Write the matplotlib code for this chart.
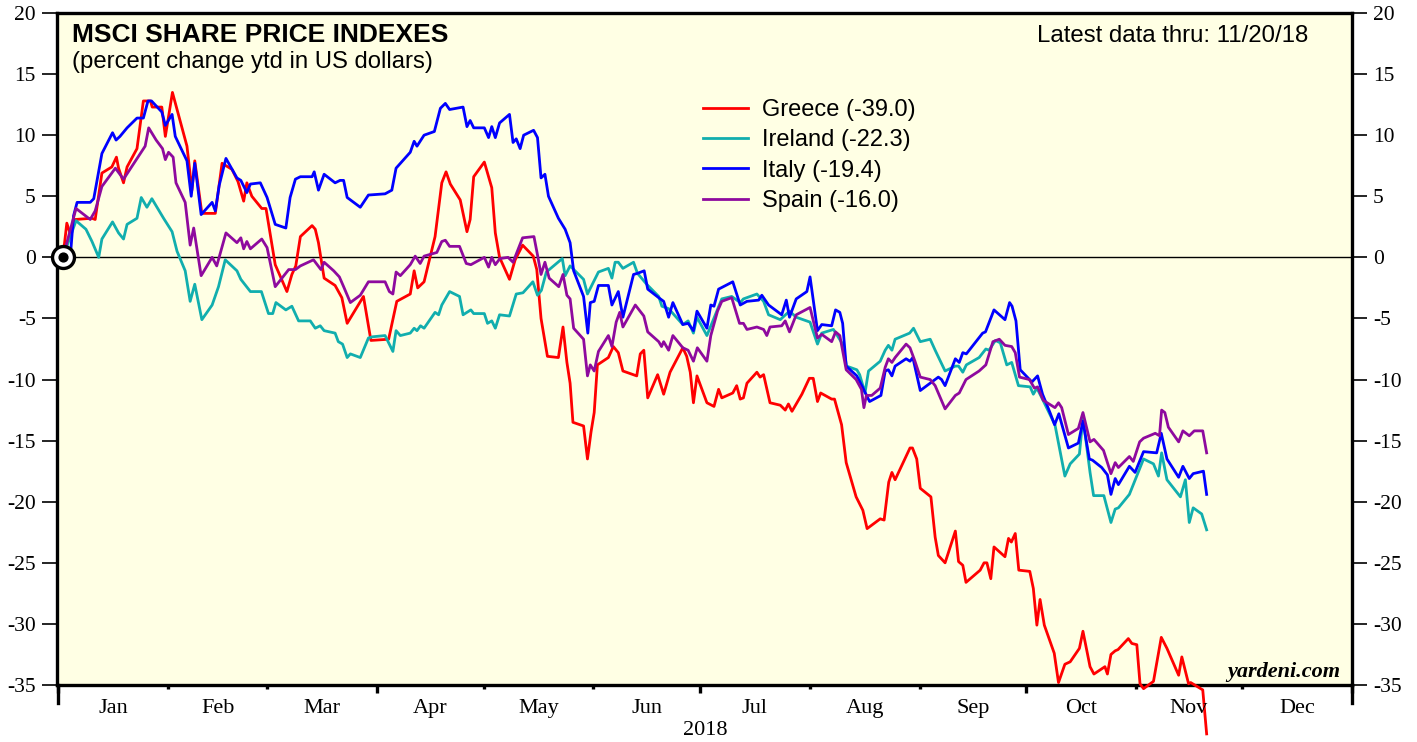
import datetime as dt
import numpy as np
import matplotlib
matplotlib.use("Agg")
import matplotlib.pyplot as plt
import matplotlib.dates as mdates
import matplotlib.transforms as mtrans

plt.rcParams["axes.unicode_minus"] = False

# days after 2018-01-01, percent change ytd
greece_day = [1.3, 2.4, 3.4, 4.8, 9.5, 10.4, 12.3, 15.1, 16.4, 17.0, 18.4, 19.4, 22.2, 24.0, 26.0, 26.5, 29.2, 30.2, 32.2, 36.3,
              37.7, 38.5, 40.5, 44.3, 46.2, 49.0, 50.7, 52.3, 53.2, 54.6, 57.4, 58.6, 61.2, 64.5, 65.9, 67.0, 68.3, 71.6, 72.5, 73.4,
              75.0, 78.1, 80.0, 81.5, 86.1, 88.2, 93.2, 95.5, 99.3, 100.4, 101.4, 103.2, 106.3, 108.2, 109.4, 110.6, 113.4, 115.3, 116.2, 117.2,
              120.2, 122.3, 123.3, 124.5, 127.3, 128.9, 131.0, 134.0, 135.0, 136.2, 138.0, 141.1, 142.4, 143.5, 144.4, 145.2, 148.2, 149.3, 150.3, 151.2,
              152.1, 155.2, 156.6, 158.0, 159.3, 163.2, 164.2, 165.2, 166.3, 169.1, 170.8, 172.6, 176.2, 177.3, 178.3, 179.2, 180.2, 183.0, 185.0, 186.3,
              187.2, 190.3, 191.4, 192.4, 193.3, 194.3, 197.1, 198.0, 199.0, 200.8, 203.7, 205.1, 206.0, 207.0, 209.8, 211.9, 213.0, 214.2, 215.1, 218.2,
              219.0, 221.0, 222.3, 225.1, 227.0, 228.2, 231.9, 233.0, 234.3, 235.2, 236.1, 240.3, 241.0, 242.2, 243.2, 246.2, 247.4, 248.3, 250.2, 253.1,
              254.0, 255.2, 256.1, 260.1, 261.2, 262.0, 263.1, 264.0, 267.1, 268.1, 268.9, 270.0, 271.0, 274.1, 275.1, 276.1, 277.0, 278.2, 281.0, 282.2,
              284.0, 285.5, 288.1, 289.1, 291.1, 292.2, 295.3, 296.0, 297.0, 298.2, 299.0, 301.9, 302.9, 304.3, 305.2, 306.2, 309.0, 311.2, 312.8, 316.1,
              317.0, 318.9, 319.5, 322.9, 324.0]
greece_pct = [0.0, 2.8, 1.9, 3.1, 3.2, 3.1, 6.9, 7.4, 8.2, 7.3, 6.1, 7.4, 8.9, 12.8, 12.8, 12.3, 12.3, 9.9, 13.5, 9.1,
              5.5, 7.9, 3.6, 3.6, 7.7, 7.2, 6.2, 4.6, 6.1, 5.0, 4.0, 4.0, -0.6, -2.8, -1.4, -0.7, 1.7, 2.6, 2.3, 1.2,
              -1.7, -2.3, -3.3, -5.4, -3.2, -6.8, -6.7, -3.6, -3.0, -1.1, -2.5, -2.0, 1.7, 6.1, 7.0, 6.0, 4.7, 2.1, 3.1, 6.6,
              7.8, 5.7, 2.0, 0.0, -1.8, -0.2, 1.0, 0.1, -1.0, -5.0, -8.1, -8.2, -5.7, -8.6, -10.3, -13.5, -13.8, -16.5, -14.3, -12.7,
              -8.8, -8.2, -7.3, -7.8, -9.3, -9.7, -7.9, -7.6, -11.5, -9.6, -11.2, -9.4, -7.4, -8.1, -9.4, -11.9, -9.7, -11.9, -12.2, -10.8,
              -11.5, -11.1, -10.5, -11.6, -11.5, -10.3, -9.4, -9.8, -9.6, -11.9, -12.1, -12.5, -12.0, -12.6, -11.2, -9.9, -9.9, -11.8, -11.1, -11.6,
              -11.6, -13.7, -16.8, -19.6, -20.7, -22.2, -21.4, -21.5, -18.4, -17.6, -18.2, -15.6, -15.6, -16.5, -18.9, -19.6, -22.9, -24.4, -25.0, -22.4,
              -24.9, -25.2, -26.6, -25.6, -25.0, -25.0, -26.3, -23.7, -24.5, -23.0, -23.3, -22.6, -25.6, -25.7, -27.1, -30.1, -28.0, -30.1, -32.4, -34.8,
              -33.3, -33.1, -32.0, -30.6, -33.5, -34.1, -33.5, -34.1, -32.5, -32.2, -32.1, -31.2, -31.6, -31.7, -34.9, -35.3, -34.7, -31.1, -32.0, -34.2,
              -32.7, -34.9, -34.8, -35.4, -39.0]

ireland_day = [1.3, 5.0, 7.8, 9.5, 11.4, 12.3, 15.3, 17.0, 18.4, 19.4, 22.2, 23.4, 25.0, 26.4, 29.7, 32.1, 33.5, 35.8, 37.2, 38.5,
               40.5, 43.4, 45.2, 47.1, 50.4, 51.5, 54.2, 57.3, 59.3, 60.5, 61.4, 64.2, 65.9, 67.8, 71.1, 72.5, 73.9, 75.0, 78.1, 79.0,
               80.2, 81.5, 82.4, 85.2, 87.5, 88.7, 92.2, 94.4, 95.3, 96.5, 99.3, 100.4, 101.2, 102.2, 103.2, 106.3, 107.3, 108.2, 110.4, 113.2,
               114.2, 116.4, 117.2, 120.2, 121.1, 122.3, 123.3, 124.5, 127.3, 129.2, 131.1, 133.9, 135.2, 136.3, 137.7, 142.2, 143.0, 144.4, 148.2, 149.3,
               152.4, 155.2, 156.2, 157.1, 158.0, 159.3, 162.3, 163.4, 166.0, 169.4, 170.3, 172.2, 176.2, 177.7, 179.2, 180.2, 183.0, 187.2, 190.0, 192.4,
               193.3, 197.1, 199.0, 200.4, 203.7, 206.3, 208.2, 212.1, 214.2, 215.4, 218.7, 221.3, 222.4, 225.3, 226.1, 227.6, 228.6, 231.9, 233.3, 234.2,
               235.2, 236.1, 240.2, 241.3, 243.2, 246.0, 247.4, 250.2, 253.1, 254.0, 255.2, 256.2, 259.8, 261.7, 262.6, 264.4, 265.8, 267.6, 269.0, 270.9,
               274.2, 275.1, 276.1, 277.5, 281.2, 282.2, 284.0, 285.5, 288.1, 289.1, 291.1, 292.1, 295.0, 297.0, 298.2, 299.1, 302.2, 306.2, 309.0, 310.4,
               311.3, 312.8, 316.6, 318.0, 319.1, 320.2, 322.6, 324.0]
ireland_pct = [0.0, 3.0, 2.3, 1.3, 0.0, 1.5, 2.9, 2.0, 1.5, 2.7, 3.2, 4.9, 4.1, 4.8, 3.2, 2.1, 0.5, -1.1, -3.6, -2.2,
               -5.1, -3.9, -2.4, -0.2, -1.1, -1.8, -2.8, -2.8, -4.6, -4.6, -3.7, -4.3, -4.0, -5.2, -5.2, -5.8, -5.6, -6.0, -6.2, -6.9,
               -7.1, -8.2, -7.9, -8.2, -6.6, -6.5, -6.4, -7.7, -6.0, -6.4, -6.2, -5.8, -6.0, -5.6, -5.8, -4.5, -4.7, -3.9, -2.8, -3.2,
               -4.7, -4.3, -4.6, -4.6, -5.4, -5.2, -5.8, -4.7, -4.8, -3.0, -2.9, -2.0, -3.1, -2.7, -1.2, -0.1, -1.5, -0.7, -1.8, -3.0,
               -1.2, -0.9, -1.7, -0.4, -0.4, -0.9, -0.4, -1.3, -2.2, -3.2, -4.0, -4.2, -5.5, -5.2, -6.2, -4.9, -6.4, -3.4, -3.2, -3.7,
               -3.4, -3.0, -3.6, -4.7, -5.1, -4.4, -4.9, -5.3, -7.1, -6.2, -5.9, -7.1, -8.9, -9.2, -9.6, -11.1, -9.3, -8.5, -7.6, -7.2,
               -7.6, -6.7, -6.2, -5.8, -6.9, -6.7, -7.6, -9.3, -8.9, -8.9, -9.4, -8.8, -8.2, -7.5, -7.6, -6.8, -7.0, -8.8, -8.6, -10.5,
               -10.6, -11.2, -10.7, -11.5, -13.7, -15.2, -17.9, -16.9, -16.1, -13.1, -17.6, -19.5, -19.5, -21.7, -20.6, -20.5, -19.4, -16.5, -16.9, -17.9,
               -16.0, -18.2, -19.6, -18.2, -21.7, -20.5, -21.0, -22.3]

italy_day = [1.3, 3.4, 4.3, 5.3, 9.0, 10.0, 12.3, 15.3, 16.3, 17.4, 19.4, 22.2, 24.0, 25.3, 26.3, 29.2, 30.2, 32.1, 33.0, 36.3,
             37.5, 38.5, 40.3, 43.4, 44.3, 45.4, 47.3, 50.4, 51.5, 53.2, 54.2, 57.0, 58.9, 61.2, 64.2, 65.4, 66.9, 68.3, 71.6, 72.2,
             73.4, 75.0, 78.1, 79.5, 80.5, 81.5, 85.2, 87.5, 92.2, 94.1, 95.3, 99.3, 100.4, 101.2, 103.2, 106.1, 107.8, 109.2, 110.4, 114.2,
             115.3, 116.2, 117.2, 120.2, 121.4, 122.3, 123.3, 124.5, 127.3, 128.3, 129.2, 130.3, 131.3, 134.1, 135.2, 136.2, 137.3, 138.3, 141.1, 143.0,
             144.4, 145.4, 148.2, 149.4, 150.1, 151.2, 152.4, 155.2, 156.2, 158.0, 159.3, 162.3, 163.5, 165.3, 166.3, 169.4, 170.8, 172.2, 173.4, 176.2,
             177.7, 179.2, 180.2, 183.0, 184.1, 185.0, 186.3, 190.3, 192.4, 194.3, 197.6, 198.5, 200.4, 204.1, 205.4, 206.3, 208.2, 211.2, 212.1, 214.2,
             215.4, 218.2, 219.3, 220.5, 221.3, 222.3, 225.3, 226.7, 228.9, 232.1, 233.3, 234.2, 235.2, 236.1, 239.2, 240.3, 241.1, 243.2, 247.4, 248.3,
             249.2, 250.2, 253.1, 254.2, 255.2, 256.2, 260.8, 261.6, 264.0, 267.1, 268.4, 269.1, 270.2, 271.4, 274.7, 276.3, 277.7, 279.8, 281.1, 282.3,
             285.0, 287.8, 289.1, 290.9, 291.8, 294.4, 296.0, 297.0, 298.2, 299.1, 302.2, 303.8, 306.2, 309.9, 311.2, 312.8, 316.1, 317.3, 319.1, 320.2,
             323.1, 324.0]
italy_pct = [0.0, 0.1, 3.4, 4.5, 4.5, 4.8, 8.5, 10.2, 9.6, 9.9, 10.6, 11.4, 11.4, 12.8, 12.8, 11.9, 10.8, 11.7, 9.9, 7.9,
             5.0, 7.7, 3.5, 4.5, 3.8, 5.9, 8.1, 6.5, 6.3, 5.3, 6.0, 6.1, 4.9, 2.7, 2.4, 4.9, 6.4, 6.6, 6.6, 7.0,
             5.5, 6.8, 6.1, 6.3, 6.3, 4.9, 4.1, 5.1, 5.2, 5.5, 7.3, 8.6, 9.5, 9.1, 10.0, 10.3, 12.2, 12.6, 12.1, 12.3,
             10.7, 11.2, 10.6, 10.6, 9.8, 10.7, 9.8, 11.0, 11.7, 9.4, 9.7, 8.9, 10.0, 10.4, 9.8, 6.5, 6.8, 5.0, 3.2, 2.3,
             1.2, -1.1, -3.2, -6.2, -3.7, -3.6, -2.3, -2.3, -3.9, -2.8, -4.9, -1.4, -1.3, -1.1, -2.6, -3.3, -3.6, -4.9, -3.7, -5.5,
             -5.4, -6.0, -4.4, -5.8, -3.9, -4.0, -2.6, -2.0, -3.9, -3.6, -3.5, -3.1, -3.9, -4.7, -3.5, -4.9, -3.4, -2.8, -1.6, -6.0,
             -5.5, -5.6, -4.3, -4.5, -5.4, -8.9, -9.7, -10.5, -11.8, -11.3, -9.3, -9.2, -9.7, -8.9, -8.3, -8.5, -8.2, -10.9, -10.0, -9.8,
             -10.0, -10.5, -8.3, -8.6, -7.8, -7.9, -6.2, -6.1, -4.3, -5.1, -3.7, -4.0, -5.2, -9.2, -10.2, -9.7, -11.2, -12.7, -13.7, -12.8,
             -15.6, -15.2, -13.4, -16.5, -16.6, -17.2, -17.8, -19.4, -18.1, -18.6, -17.1, -17.6, -15.9, -16.0, -14.4, -16.5, -18.0, -17.1, -18.1, -17.7,
             -17.5, -19.4]

spain_day = [1.3, 5.0, 9.0, 10.4, 12.3, 16.1, 18.4, 24.5, 25.5, 27.6, 29.4, 30.2, 31.1, 32.4, 33.2, 35.8, 37.2, 38.2, 40.3, 43.4,
             44.7, 47.3, 50.4, 51.5, 52.3, 53.2, 54.2, 57.4, 58.9, 61.2, 65.0, 66.9, 68.3, 72.0, 74.1, 75.0, 77.7, 79.3, 80.5, 82.4,
             85.2, 87.5, 92.2, 93.4, 94.4, 95.3, 96.5, 99.3, 100.7, 102.1, 103.2, 106.8, 108.2, 109.2, 110.4, 113.2, 115.1, 116.4, 120.2, 121.4,
             122.3, 123.3, 124.6, 126.9, 128.3, 131.0, 134.2, 135.2, 136.2, 137.3, 138.5, 141.2, 142.4, 143.5, 144.4, 145.4, 148.2, 149.3, 150.1, 151.2,
             152.4, 155.2, 156.2, 157.4, 158.4, 159.3, 162.8, 165.2, 166.3, 169.4, 170.2, 170.8, 172.2, 173.4, 176.2, 177.7, 179.2, 180.3, 183.0, 184.1,
             186.0, 187.2, 190.0, 192.2, 193.3, 194.3, 197.1, 199.0, 199.9, 200.8, 204.1, 205.1, 206.3, 208.2, 212.1, 214.2, 215.4, 218.2, 219.3, 220.5,
             222.3, 225.1, 226.6, 227.3, 228.0, 229.5, 231.9, 233.3, 234.2, 235.2, 236.1, 239.2, 240.3, 241.7, 243.2, 246.0, 247.4, 250.2, 253.1, 254.2,
             256.1, 259.8, 261.7, 263.7, 265.5, 267.1, 269.0, 270.0, 271.2, 274.0, 275.4, 276.3, 277.9, 281.2, 282.2, 283.1, 285.0, 287.8, 289.1, 291.1,
             292.2, 294.9, 297.0, 298.2, 299.1, 302.2, 303.3, 305.1, 306.2, 309.5, 310.7, 311.3, 312.2, 313.2, 316.1, 317.3, 319.1, 320.5, 322.9, 324.0]
spain_pct = [0.0, 4.0, 3.1, 3.8, 5.8, 7.3, 6.4, 9.1, 10.6, 9.6, 8.9, 8.0, 8.6, 8.2, 6.1, 4.5, 1.0, 2.4, -1.5, 0.0,
             -0.7, 2.0, 1.2, 1.6, 0.7, 1.3, 0.7, 1.5, 0.8, -2.4, -1.0, -1.0, -0.7, -0.2, -1.0, -0.4, -1.1, -1.6, -2.4, -3.7,
             -3.1, -2.0, -2.0, -2.8, -3.0, -1.2, -1.5, -0.6, 0.1, -0.5, 0.1, 0.4, 1.3, 1.4, 0.9, 0.9, -0.5, -0.6, 0.0, -0.8,
             0.0, -0.6, -0.1, 0.0, -0.4, 1.6, 1.7, 0.2, -1.4, -0.4, -1.7, -2.4, -1.4, -3.1, -3.4, -5.8, -6.7, -9.7, -8.8, -9.3,
             -7.7, -6.4, -7.3, -5.3, -4.5, -5.7, -3.9, -4.8, -6.1, -6.9, -7.3, -6.9, -7.6, -6.4, -7.4, -7.6, -8.5, -7.4, -8.5, -6.4,
             -4.4, -3.6, -3.3, -5.4, -5.4, -5.9, -5.7, -5.9, -6.4, -5.7, -5.6, -5.2, -6.1, -4.7, -4.1, -6.6, -6.3, -6.9, -6.1, -6.4,
             -9.2, -10.0, -10.8, -12.3, -11.3, -11.3, -10.7, -9.0, -8.3, -8.6, -8.2, -7.1, -7.4, -8.5, -9.8, -10.0, -10.5, -12.4, -11.3, -11.1,
             -10.0, -9.3, -8.8, -6.9, -6.7, -7.2, -7.3, -7.8, -9.8, -10.0, -10.7, -10.6, -11.7, -12.3, -11.9, -12.3, -14.5, -14.0, -12.7, -15.1,
             -14.9, -15.8, -17.7, -16.8, -17.2, -16.3, -16.7, -15.1, -14.8, -14.4, -14.6, -12.5, -12.7, -13.9, -15.1, -14.2, -14.6, -14.2, -14.2, -16.0]

series_names = ["Greece (-39.0)", "Ireland (-22.3)", "Italy (-19.4)", "Spain (-16.0)"]
series_colors = ["#FF0000", "#11AEAE", "#0000FF", "#8E0A9E"]
months = ["Jan", "Feb", "Mar", "Apr", "May", "Jun", "Jul", "Aug", "Sep", "Oct", "Nov", "Dec"]

sans = "Liberation Sans"
serif = "Liberation Serif"

t0 = mdates.date2num(dt.datetime(2018, 1, 1))
t1 = mdates.date2num(dt.datetime(2019, 1, 1))

fig = plt.figure(figsize=(14.17, 7.42), dpi=100)
ax = fig.add_axes([0.0399, 0.0768, 0.9142, 0.9057])
ax.set_facecolor("#FFFFE4")

ax.axhline(0, color="black", lw=1.0, zorder=1)

days = [greece_day, ireland_day, italy_day, spain_day]
vals = [greece_pct, ireland_pct, italy_pct, spain_pct]
for d, v, c, name in zip(days, vals, series_colors, series_names):
    ax.plot(t0 + np.array(d), v, color=c, lw=2.0, label=name, clip_on=False, zorder=3)

# start marker
ax.scatter([t0 + 1.3], [0], s=250, facecolor="white", edgecolor="black", lw=2.4, zorder=6, clip_on=False)
ax.scatter([t0 + 1.3], [0], s=40, color="black", zorder=7, clip_on=False)

ax.set_xlim(t0 - 0.5, t1)
ax.set_ylim(-35, 20)

for s in ax.spines.values():
    s.set_linewidth(2.4)

# y axis both sides
ax.set_yticks(np.arange(-35, 21, 5))
ax.tick_params(axis="y", which="major", direction="out", length=11, width=1.2, pad=4,
               left=True, right=True, labelleft=True, labelright=True)
for lab in ax.get_yticklabels():
    lab.set_fontfamily(serif)
    lab.set_fontsize(15.5)

# x axis: month boundaries
quarters = [mdates.date2num(dt.datetime(2018, m, 1)) for m in (1, 4, 7, 10)] + [t1]
month_starts = [mdates.date2num(dt.datetime(2018, m, 1)) for m in range(1, 13)] + [t1]
ax.set_xticks(quarters)
ax.set_xticks(month_starts, minor=True)
ax.tick_params(axis="x", which="major", direction="out", length=6, width=2.4, labelbottom=False)
ax.tick_params(axis="x", which="minor", direction="out", length=3, width=2.4)

trans = mtrans.blended_transform_factory(ax.transData, ax.transAxes)
for x in (t0, t1):
    ax.plot([x, x], [0, -0.027], color="black", lw=2.4, transform=trans, clip_on=False)

for i, m in enumerate(months):
    mid = (month_starts[i] + month_starts[i + 1]) / 2
    ax.text(mid, -0.035, m, transform=trans, ha="center", va="center", fontfamily=serif, fontsize=16)
ax.text((t0 + t1) / 2, -0.068, "2018", transform=trans, ha="center", va="center", fontfamily=serif, fontsize=16)

# titles
ax.text(0.012, 0.957, "MSCI SHARE PRICE INDEXES", transform=ax.transAxes, fontfamily=sans,
        fontweight="bold", fontsize=19, va="baseline", ha="left")
ax.text(0.012, 0.918, "(percent change ytd in US dollars)", transform=ax.transAxes, fontfamily=sans,
        fontsize=17.2, va="baseline", ha="left")
ax.text(0.966, 0.957, "Latest data thru: 11/20/18", transform=ax.transAxes, fontfamily=sans,
        fontsize=17.3, va="baseline", ha="right")
ax.text(0.9907, 0.012, "yardeni.com", transform=ax.transAxes, fontfamily=serif, fontweight="bold",
        fontstyle="italic", fontsize=16, va="baseline", ha="right")

leg = ax.legend(loc="upper left", bbox_to_anchor=(0.499, 0.872), frameon=False, borderpad=0,
                borderaxespad=0, handlelength=1.9, handletextpad=0.6, labelspacing=0.35,
                prop={"family": sans, "size": 17})

fig.savefig("out.png", dpi=100, facecolor="white")
